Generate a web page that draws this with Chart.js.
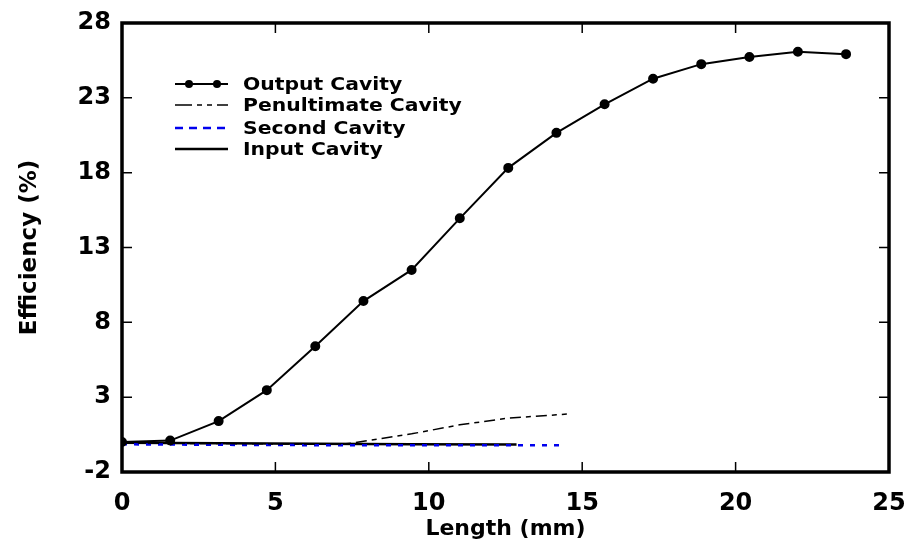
<!DOCTYPE html>
<html>
<head>
<meta charset="utf-8">
<script src="https://cdn.jsdelivr.net/npm/chart.js@4"></script>
<style>
html, body { margin: 0; padding: 0; background: #fff; }
#wrap { width: 909px; height: 546px; position: relative; }
</style>
</head>
<body>
<div id="wrap"><canvas id="effChart"></canvas></div>
<script>
const xTicks = [0, 5, 10, 15, 20, 25];
const yTicks = [-2, 3, 8, 13, 18, 23, 28];

const outputLength = [0, 1.57, 3.15, 4.72, 6.30, 7.87, 9.44, 11.01, 12.59, 14.16, 15.73, 17.31, 18.88, 20.45, 22.03, 23.60];
const outputEff = [0, 0.1, 1.4, 3.47, 6.4, 9.42, 11.5, 14.95, 18.32, 20.66, 22.57, 24.28, 25.25, 25.73, 26.08, 25.92];

const penultLength = [0, 1.57, 3.15, 4.72, 6.30, 7.3, 7.87, 9.44, 11.01, 12.59, 14.16, 14.5];
const penultEff = [-0.05, -0.08, -0.1, -0.12, -0.13, -0.12, 0.05, 0.55, 1.15, 1.6, 1.82, 1.87];

const secondLength = [0, 4.72, 9.44, 14.4];
const secondEff = [-0.15, -0.2, -0.22, -0.22];

const inputLength = [0, 4.72, 9.44, 12.86];
const inputEff = [-0.05, -0.1, -0.14, -0.17];

const FONT = "'DejaVu Sans', 'Liberation Sans', sans-serif";

function toPoints(xs, ys) {
  return xs.map((x, i) => ({ x: x, y: ys[i] }));
}

// box around the plot with inward ticks on all four sides
const framePlugin = {
  id: 'frame',
  afterDraw(chart) {
    const { ctx, chartArea: a, scales } = chart;
    const len = 10;
    ctx.save();
    ctx.strokeStyle = '#000';
    ctx.lineWidth = 1.5;
    ctx.beginPath();
    xTicks.forEach(v => {
      const px = scales.x.getPixelForValue(v);
      ctx.moveTo(px, a.bottom); ctx.lineTo(px, a.bottom - len);
      ctx.moveTo(px, a.top); ctx.lineTo(px, a.top + len);
    });
    yTicks.forEach(v => {
      const py = scales.y.getPixelForValue(v);
      ctx.moveTo(a.left, py); ctx.lineTo(a.left + len, py);
      ctx.moveTo(a.right, py); ctx.lineTo(a.right - len, py);
    });
    ctx.stroke();
    ctx.lineWidth = 3.5;
    ctx.strokeRect(a.left, a.top, a.right - a.left, a.bottom - a.top);
    ctx.restore();
  }
};

// legend drawn inside the plot, upper left
const insideLegend = {
  id: 'insideLegend',
  afterDraw(chart) {
    const ctx = chart.ctx;
    const rows = [84, 105, 128, 149];
    const x0 = 175, x1 = 228, tx = 243;
    ctx.save();
    ctx.font = 'bold 18px ' + FONT;
    ctx.textBaseline = 'middle';
    chart.data.datasets.forEach((ds, i) => {
      const y = rows[i];
      ctx.strokeStyle = ds.borderColor;
      ctx.lineWidth = ds.borderWidth;
      ctx.setLineDash(ds.legendDash || ds.borderDash || []);
      ctx.beginPath();
      ctx.moveTo(x0, y); ctx.lineTo(x1, y);
      ctx.stroke();
      ctx.setLineDash([]);
      if (ds.pointRadius > 0) {
        ctx.fillStyle = ds.pointBackgroundColor;
        [189, 217].forEach(px => {
          ctx.beginPath();
          ctx.arc(px, y, ds.pointRadius, 0, Math.PI * 2);
          ctx.fill();
        });
      }
      // the original lettering is a bit wider than the font
      ctx.save();
      ctx.translate(tx, y + 1);
      ctx.scale(1.13, 1);
      ctx.fillStyle = '#000';
      ctx.fillText(ds.label, 0, 0);
      ctx.restore();
    });
    ctx.restore();
  }
};

const ctx = document.getElementById('effChart').getContext('2d');
const effChart = new Chart(ctx, {
  type: 'line',
  data: {
    datasets: [{
      label: 'Output Cavity',
      data: toPoints(outputLength, outputEff),
      borderColor: '#000',
      borderWidth: 2,
      pointRadius: 4,
      pointBackgroundColor: '#000',
      pointBorderColor: '#000',
      tension: 0
    }, {
      label: 'Penultimate Cavity',
      data: toPoints(penultLength, penultEff),
      borderColor: '#000',
      borderWidth: 1.5,
      borderDash: [11, 5, 5, 5],
      legendDash: [17, 5, 5, 5, 5, 5],
      pointRadius: 0,
      tension: 0
    }, {
      label: 'Second Cavity',
      data: toPoints(secondLength, secondEff),
      borderColor: '#0000ee',
      borderWidth: 2.5,
      borderDash: [5, 7],
      legendDash: [8, 6],
      pointRadius: 0,
      tension: 0
    }, {
      label: 'Input Cavity',
      data: toPoints(inputLength, inputEff),
      borderColor: '#000',
      borderWidth: 2.5,
      pointRadius: 0,
      tension: 0
    }]
  },
  options: {
    responsive: true,
    maintainAspectRatio: false,
    animation: false,
    layout: { padding: { top: 23, right: 20, left: 0, bottom: 0 } },
    plugins: {
      legend: { display: false },
      tooltip: { enabled: false }
    },
    scales: {
      x: {
        type: 'linear',
        min: 0,
        max: 25,
        afterBuildTicks: s => { s.ticks = xTicks.map(v => ({ value: v })); },
        afterFit: s => { s.height = 74; s.paddingLeft = 0; s.paddingRight = 0; },
        grid: { display: false, drawTicks: false },
        border: { display: false },
        ticks: {
          color: '#000',
          padding: 17,
          maxRotation: 0,
          font: { family: FONT, size: 24, weight: 'bold' }
        },
        title: {
          display: true,
          text: 'Length (mm)',
          color: '#000',
          padding: { top: 0, bottom: 4 },
          font: { family: FONT, size: 22, weight: 'bold' }
        }
      },
      y: {
        type: 'linear',
        min: -2,
        max: 28,
        afterBuildTicks: s => { s.ticks = yTicks.map(v => ({ value: v })); },
        afterFit: s => { s.width = 122; s.paddingTop = 0; s.paddingBottom = 0; },
        grid: { display: false, drawTicks: false },
        border: { display: false },
        ticks: {
          color: '#000',
          padding: 11,
          font: { family: FONT, size: 24, weight: 'bold' }
        },
        title: {
          display: true,
          text: 'Efficiency (%)',
          color: '#000',
          padding: { top: 16, bottom: 0 },
          font: { family: FONT, size: 23, weight: 'bold' }
        }
      }
    }
  },
  plugins: [framePlugin, insideLegend]
});
</script>
</body>
</html>
